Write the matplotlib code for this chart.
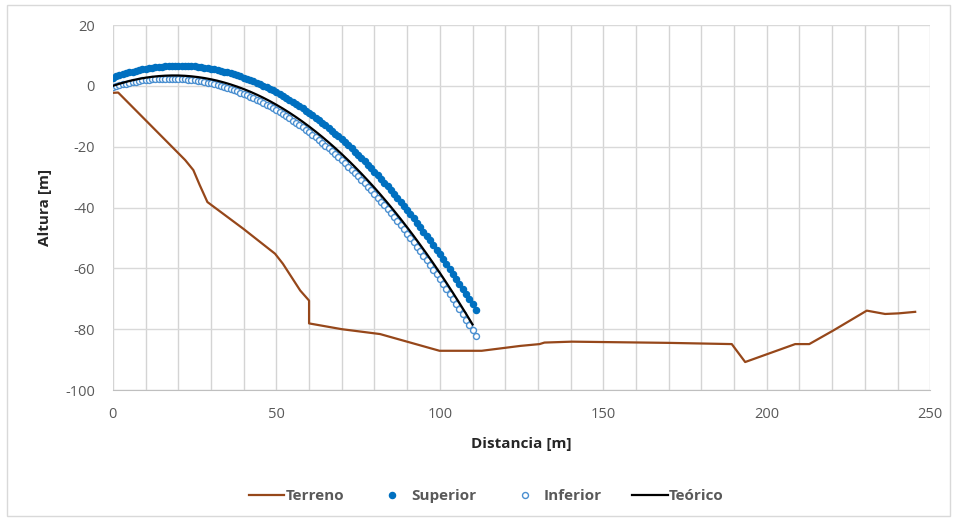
import numpy as np
import matplotlib.pyplot as plt
from matplotlib.patches import Rectangle

plt.rcParams['font.family'] = ['Open Sans', 'DejaVu Sans']
plt.rcParams['axes.unicode_minus'] = False

# Terreno (perfil del terreno)
terreno_x = [0, 1.6, 22.1, 24.6, 26.5, 28.9, 39.9, 49.6, 52.0, 57.3, 60.0, 60.0,
             70.0, 81.7, 99.9, 112.8, 124.6, 130.5, 132.0, 140.4, 170.0, 189.3,
             193.4, 208.7, 213.0, 220.4, 230.6, 236.2, 240.3, 245.4]
terreno_y = [-2.3, -2.2, -24.4, -27.7, -32.5, -38.2, -47.0, -55.2, -58.5, -67.3, -70.6, -78.1,
             -80.0, -81.6, -87.1, -87.1, -85.5, -84.9, -84.4, -84.1, -84.5, -84.9,
             -90.8, -84.9, -84.9, -80.4, -73.9, -75.0, -74.8, -74.3]

# Superior / Inferior: una medida por metro, x = 0..111
sup_y = [2.70, 3.08, 3.44, 3.78, 4.10, 4.40, 4.68, 4.95, 5.19, 5.42,
         5.62, 5.81, 5.97, 6.12, 6.24, 6.35, 6.44, 6.51, 6.56, 6.59,
         6.60, 6.59, 6.56, 6.52, 6.45, 6.36, 6.26, 6.13, 5.99, 5.82,
         5.64, 5.44, 5.22, 4.97, 4.71, 4.43, 4.13, 3.81, 3.48, 3.12,
         2.74, 2.34, 1.93, 1.49, 1.04, 0.56, 0.07, -0.44, -0.98, -1.53,
         -2.10, -2.69, -3.30, -3.93, -4.58, -5.25, -5.94, -6.64, -7.37, -8.12,
         -8.88, -9.67, -10.47, -11.29, -12.14, -13.00, -13.88, -14.78, -15.70, -16.64,
         -17.60, -18.58, -19.58, -20.59, -21.63, -22.69, -23.76, -24.86, -25.97, -27.11,
         -28.26, -29.43, -30.63, -31.84, -33.07, -34.32, -35.59, -36.88, -38.19, -39.51,
         -40.86, -42.23, -43.61, -45.02, -46.44, -47.89, -49.35, -50.83, -52.34, -53.86,
         -55.40, -56.96, -58.54, -60.14, -61.76, -63.40, -65.06, -66.73, -68.43, -70.15,
         -71.88, -73.64]
inf_y = [-0.40, -0.08, 0.22, 0.49, 0.75, 0.99, 1.22, 1.42, 1.60, 1.76,
         1.91, 2.03, 2.14, 2.23, 2.30, 2.35, 2.37, 2.39, 2.38, 2.35,
         2.30, 2.24, 2.15, 2.05, 1.92, 1.78, 1.62, 1.44, 1.24, 1.02,
         0.78, 0.52, 0.24, -0.05, -0.37, -0.70, -1.05, -1.43, -1.82, -2.23,
         -2.66, -3.11, -3.58, -4.07, -4.57, -5.10, -5.64, -6.21, -6.79, -7.39,
         -8.02, -8.66, -9.32, -10.00, -10.69, -11.41, -12.15, -12.90, -13.68, -14.47,
         -15.29, -16.12, -16.97, -17.84, -18.73, -19.64, -20.57, -21.52, -22.48, -23.47,
         -24.47, -25.50, -26.54, -27.60, -28.68, -29.79, -30.90, -32.04, -33.20, -34.38,
         -35.58, -36.79, -38.03, -39.28, -40.55, -41.85, -43.16, -44.49, -45.84, -47.21,
         -48.60, -50.00, -51.43, -52.87, -54.34, -55.82, -57.33, -58.85, -60.39, -61.95,
         -63.53, -65.13, -66.75, -68.38, -70.04, -71.72, -73.41, -75.12, -76.86, -78.61,
         -80.38, -82.17]
med_x = np.arange(len(sup_y))

# Teórico, cada 2 m
teo_x = np.arange(0, 111, 2)
teo_y = [0.00, 0.69, 1.31, 1.84, 2.30, 2.68, 2.98, 3.20, 3.34, 3.41,
         3.40, 3.30, 3.13, 2.88, 2.56, 2.15, 1.67, 1.10, 0.46, -0.26,
         -1.06, -1.93, -2.89, -3.92, -5.03, -6.23, -7.49, -8.84, -10.27, -11.77,
         -13.36, -15.02, -16.76, -18.58, -20.47, -22.45, -24.50, -26.64, -28.85, -31.14,
         -33.50, -35.95, -38.48, -41.08, -43.76, -46.52, -49.36, -52.28, -55.27, -58.35,
         -61.50, -64.73, -68.04, -71.43, -74.90, -78.44]

fig = plt.figure(figsize=(9.57, 5.21), dpi=100)
ax = fig.add_axes([0.118, 0.2514, 0.854, 0.7006])

ax.plot(terreno_x, terreno_y, color='#96471A', lw=1.6, label='Terreno', zorder=3)
ax.plot(med_x, sup_y, ls='none', marker='o', ms=4.4, color='#0070C0',
        mec='#0070C0', label='Superior', zorder=4)
ax.plot(med_x, inf_y, ls='none', marker='o', ms=4.3, mfc='white',
        mec='#4A8FD0', mew=1.0, label='Inferior', zorder=4)
ax.plot(teo_x, teo_y, color='black', lw=1.6, label='Teórico', zorder=5)

ax.set_xlim(0, 250)
ax.set_ylim(-100, 20)
ax.set_xticks(range(0, 251, 50))
ax.set_yticks(range(-100, 21, 20))
ax.set_xticks(range(0, 251, 10), minor=True)
ax.grid(True, which='both', axis='x', color='#D4D4D4', lw=1.0)
ax.grid(True, which='major', axis='y', color='#D9D9D9', lw=1.0)
ax.set_axisbelow(True)
for s in ['top', 'right', 'left']:
    ax.spines[s].set_visible(False)
ax.spines['bottom'].set_color('#BFBFBF')
ax.tick_params(which='both', length=0, labelsize=10.5, colors='#595959')
ax.tick_params(axis='x', pad=12)
ax.tick_params(axis='y', pad=13)

ax.set_xlabel('Distancia [m]', fontsize=11, fontweight='bold', color='#262626', labelpad=11)
ax.set_ylabel('Altura [m]', fontsize=11, fontweight='bold', color='#262626', labelpad=9)

leg = ax.legend(loc='center', bbox_to_anchor=(0.457, -0.29), ncol=4, frameon=False,
                handlelength=2.3, columnspacing=2.0, handletextpad=0.1,
                prop={'size': 11, 'weight': 'bold'})
for t in leg.get_texts():
    t.set_color('#595959')

fig.patches.append(Rectangle((0.007, 0.01), 0.986, 0.98, transform=fig.transFigure,
                             fill=False, ec='#D9D9D9', lw=1.0))

fig.savefig('out.png', dpi=100)
